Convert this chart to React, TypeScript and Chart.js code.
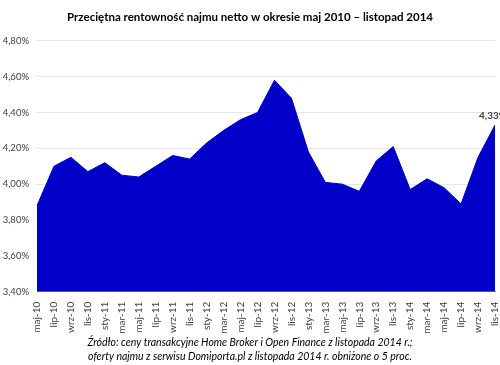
import React, { useEffect, useRef } from "react";
import { Chart, registerables } from "chart.js";

Chart.register(...registerables);

const categories = [
  "maj-10", "lip-10", "wrz-10", "lis-10",
  "sty-11", "mar-11", "maj-11", "lip-11", "wrz-11", "lis-11",
  "sty-12", "mar-12", "maj-12", "lip-12", "wrz-12", "lis-12",
  "sty-13", "mar-13", "maj-13", "lip-13", "wrz-13", "lis-13",
  "sty-14", "mar-14", "maj-14", "lip-14", "wrz-14", "lis-14",
];

const rentownosc = [
  3.88, 4.10, 4.15, 4.07,
  4.12, 4.05, 4.04, 4.10, 4.16, 4.14,
  4.23, 4.30, 4.36, 4.40, 4.58, 4.48,
  4.18, 4.01, 4.00, 3.96, 4.13, 4.21,
  3.97, 4.03, 3.98, 3.89, 4.15, 4.33,
];

const titleText = "Przeciętna rentowność najmu netto w okresie maj 2010 – listopad 2014";
const footnoteLines = [
  "Źródło: ceny transakcyjne Home Broker i Open Finance z listopada 2014 r.;",
  "oferty najmu z serwisu Domiporta.pl z listopada 2014 r. obniżone o 5 proc.",
];

const fmt = (v: number) => v.toFixed(2).replace(".", ",") + "%";

const lastLabelPlugin = {
  id: "lastLabel",
  afterDatasetsDraw(chart: any) {
    const meta = chart.getDatasetMeta(0);
    const idx = rentownosc.length - 1;
    const pt = meta.data[idx];
    if (!pt) return;
    const ctx = chart.ctx;
    ctx.save();
    ctx.font = "bold 10px Lato";
    ctx.fillStyle = "#404040";
    ctx.textAlign = "center";
    ctx.textBaseline = "bottom";
    ctx.fillText(fmt(rentownosc[idx]), pt.x - 2, pt.y - 4);
    ctx.restore();
  },
};

export default function App() {
  const ref = useRef<HTMLCanvasElement | null>(null);
  useEffect(() => {
    document.body.style.margin = "0";
    const ctx = ref.current!;
    const chart = new Chart(ctx, {
      type: "line",
      data: {
        labels: categories,
        datasets: [
          {
            data: rentownosc,
            fill: "start",
            backgroundColor: "#0000C8",
            borderColor: "#0000C8",
            borderWidth: 1,
            pointRadius: 0,
            tension: 0,
          },
        ],
      },
      options: {
        animation: false,
        responsive: false,
        maintainAspectRatio: false,
        layout: { padding: { left: 0, right: 0, top: 0, bottom: 0 } },
        plugins: {
          legend: { display: false },
          tooltip: { enabled: false },
          title: {
            display: true,
            text: titleText,
            color: "#000000",
            font: { family: "Lato", size: 11.5, weight: "bold" },
            padding: { top: 10, bottom: 17 },
          },
          subtitle: {
            display: true,
            position: "bottom",
            text: footnoteLines,
            color: "#000000",
            font: { family: "Lato", size: 10.5, style: "italic", lineHeight: 1.35 },
            padding: { top: 0, bottom: 1 },
          },
        },
        scales: {
          x: {
            offset: false,
            grid: { display: false },
            border: { color: "#8080ff" },
            afterFit: (scale: any) => {
              scale.paddingRight = 5;
              scale.paddingLeft = 0;
            },
            ticks: {
              color: "#404040",
              font: { family: "Lato", size: 10 },
              minRotation: 90,
              maxRotation: 90,
              autoSkip: false,
              padding: 2,
            },
          },
          y: {
            min: 3.4,
            max: 4.8,
            grid: { color: "#e6e6e6", drawTicks: false },
            border: { display: false },
            afterFit: (scale: any) => {
              scale.width = 37;
            },
            ticks: {
              stepSize: 0.2,
              color: "#404040",
              font: { family: "Lato", size: 9.5 },
              padding: 8,
              callback: (v: any) => fmt(Number(v)),
            },
          },
        },
      },
      plugins: [lastLabelPlugin],
    });
    return () => chart.destroy();
  }, []);
  return (
    <div style={{ width: 500, height: 365 }}>
      <canvas ref={ref} width={500} height={365} style={{ display: "block" }} />
    </div>
  );
}
